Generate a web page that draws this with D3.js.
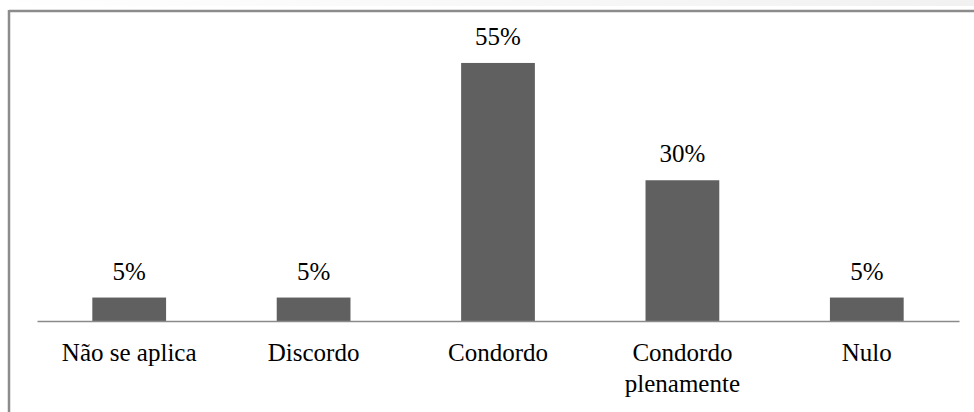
<!DOCTYPE html>
<html>
<head>
<meta charset="utf-8">
<script src="https://cdn.jsdelivr.net/npm/d3@7"></script>
<style>
  html, body { margin: 0; padding: 0; background: #fff; }
  svg { display: block; }
</style>
</head>
<body>
<svg id="chart" width="974" height="412"></svg>
<script>
// Respostas por categoria (percentual)
const categories = ["Não se aplica", "Discordo", "Condordo", "Condordo plenamente", "Nulo"];
const categoryLines = [["Não se aplica"], ["Discordo"], ["Condordo"], ["Condordo", "plenamente"], ["Nulo"]];
const values = [5, 5, 55, 30, 5];
const valueLabels = ["5%", "5%", "55%", "30%", "5%"];
const yDomain = [0, 60];

const FONT = "Liberation Serif";

const svg = d3.select("#chart");
const W = 974, H = 412;

// faint band above the frame
const defs = svg.append("defs");
const grad = defs.append("linearGradient").attr("id", "band").attr("x1", "0").attr("x2", "1");
grad.append("stop").attr("offset", "0").attr("stop-color", "#ffffff");
grad.append("stop").attr("offset", "1").attr("stop-color", "#f1f1f1");
svg.append("rect").attr("x", 0).attr("y", 0).attr("width", W).attr("height", 6).attr("fill", "url(#band)");

// chart frame (left and top edges visible)
svg.append("line").attr("x1", 9).attr("x2", W).attr("y1", 11).attr("y2", 11)
  .attr("stroke", "#8c8c8c").attr("stroke-width", 2.5);
svg.append("line").attr("x1", 9).attr("x2", 9).attr("y1", 10).attr("y2", H)
  .attr("stroke", "#8c8c8c").attr("stroke-width", 2.5);

const x = d3.scaleBand().domain(categories).range([37, 959]).paddingInner(0.6).paddingOuter(0.3);
const y = d3.scaleLinear().domain(yDomain).range([321, 39.5]);

const g = svg.append("g");

g.selectAll("rect.bar").data(values).join("rect")
  .attr("class", "bar")
  .attr("x", (d, i) => x(categories[i]))
  .attr("width", x.bandwidth())
  .attr("y", d => y(d))
  .attr("height", d => y(0) - y(d))
  .attr("fill", "#606060");

// category axis
const axis = d3.axisBottom(x).tickSize(0).tickFormat("");
const ax = g.append("g").attr("transform", `translate(0,${y(0)})`).call(axis);
ax.select(".domain").attr("stroke", "#8a8a8a").attr("stroke-width", 1.5);

// value labels
g.selectAll("text.val").data(values).join("text")
  .attr("class", "val")
  .attr("x", (d, i) => x(categories[i]) + x.bandwidth() / 2)
  .attr("y", d => y(d) - 18)
  .attr("text-anchor", "middle")
  .attr("font-family", FONT)
  .attr("font-size", 25)
  .attr("fill", "#000")
  .text((d, i) => valueLabels[i]);

// category labels
const cl = g.selectAll("text.cat").data(categories).join("text")
  .attr("class", "cat")
  .attr("text-anchor", "middle")
  .attr("font-family", FONT)
  .attr("font-size", 25)
  .attr("fill", "#000");
cl.each(function(c, i) {
  const t = d3.select(this);
  categoryLines[i].forEach((line, k) => {
    t.append("tspan")
      .attr("x", x(c) + x.bandwidth() / 2)
      .attr("y", y(0) + 40 + k * 31)
      .text(line);
  });
});
</script>
</body>
</html>
